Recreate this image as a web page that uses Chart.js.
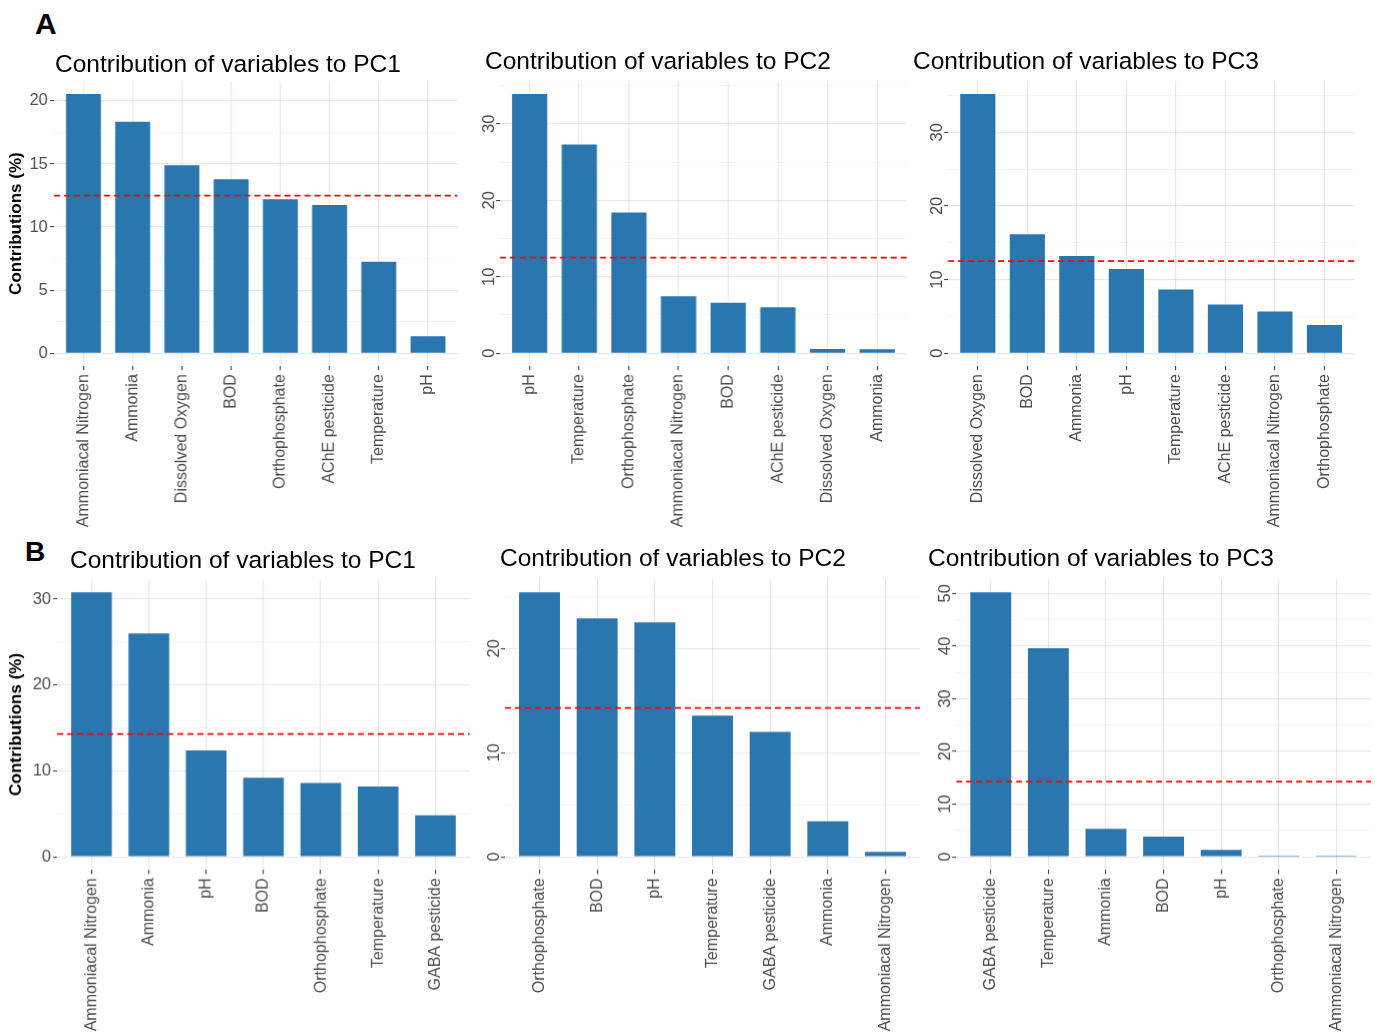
<!DOCTYPE html>
<html>
<head>
<meta charset="utf-8">
<script src="https://cdn.jsdelivr.net/npm/chart.js@4.4.1/dist/chart.umd.min.js"></script>
<style>
  body { margin: 0; background: #fff; width: 1375px; height: 1036px; position: relative; overflow: hidden;
         font-family: "Liberation Sans", Arial, sans-serif; }
  .box { position: absolute; }
  .ttl { position: absolute; font-size: 24.5px; line-height: 24px; white-space: nowrap; color: #000; }
  .tag { position: absolute; font-weight: bold; white-space: nowrap; color: #000; }
</style>
</head>
<body>
<div class="tag" style="left:35px;top:9px;font-size:30px;line-height:30px">A</div>
<div class="tag" style="left:25px;top:538px;font-size:28px;line-height:28px">B</div>
<div id="root"></div>
<script>
// valeurs (contributions en %)
const catsA1 = ["Ammoniacal Nitrogen", "Ammonia", "Dissolved Oxygen", "BOD", "Orthophosphate", "AChE pesticide", "Temperature", "pH"];
const valsA1 = [20.55, 18.35, 14.9, 13.8, 12.2, 11.75, 7.25, 1.35];

const catsA2 = ["pH", "Temperature", "Orthophosphate", "Ammoniacal Nitrogen", "BOD", "AChE pesticide", "Dissolved Oxygen", "Ammonia"];
const valsA2 = [33.9, 27.3, 18.4, 7.45, 6.6, 6.0, 0.57, 0.52];

const catsA3 = ["Dissolved Oxygen", "BOD", "Ammonia", "pH", "Temperature", "AChE pesticide", "Ammoniacal Nitrogen", "Orthophosphate"];
const valsA3 = [35.2, 16.15, 13.2, 11.45, 8.65, 6.6, 5.65, 3.85];

const catsB1 = ["Ammoniacal Nitrogen", "Ammonia", "pH", "BOD", "Orthophosphate", "Temperature", "GABA pesticide"];
const valsB1 = [30.8, 26.0, 12.4, 9.2, 8.6, 8.2, 4.85];

const catsB2 = ["Orthophosphate", "BOD", "pH", "Temperature", "GABA pesticide", "Ammonia", "Ammoniacal Nitrogen"];
const valsB2 = [25.4, 22.9, 22.5, 13.55, 12.0, 3.4, 0.48];

const catsB3 = ["GABA pesticide", "Temperature", "Ammonia", "BOD", "pH", "Orthophosphate", "Ammoniacal Nitrogen"];
const valsB3 = [50.2, 39.6, 5.3, 3.85, 1.33, 0.25, 0.25];

// ligne de référence (contribution attendue si uniforme)
const refLines = [12.5, 12.5, 12.5, 14.29, 14.29, 14.29];

// graduations y
const yTicksA1 = [0, 5, 10, 15, 20];
const yTicksA2 = [0, 10, 20, 30];
const yTicksA3 = [0, 10, 20, 30];
const yTicksB1 = [0, 10, 20, 30];
const yTicksB2 = [0, 10, 20];
const yTicksB3 = [0, 10, 20, 30, 40, 50];

const titles = ["Contribution of variables to PC1", "Contribution of variables to PC2", "Contribution of variables to PC3",
                "Contribution of variables to PC1", "Contribution of variables to PC2", "Contribution of variables to PC3"];
const yAxisTitle = "Contributions (%)";

// mise en page (px): cl = bord gauche du canvas, pl/pr/pt/pb = panneau, bot = bas du canvas
const layout = [
  { cl: 0,   pl: 53.8,  pr: 456.5,  pt: 80.5,  pb: 365.7, bot: 532,  tx: 55,  ty: 52,  first: true },
  { cl: 470, pl: 499.8, pr: 905.9,  pt: 80.5,  pb: 365.7, bot: 532,  tx: 485, ty: 49,  first: false },
  { cl: 915, pl: 948.1, pr: 1354.2, pt: 80.5,  pb: 365.7, bot: 532,  tx: 913, ty: 49,  first: false },
  { cl: 0,   pl: 57,    pr: 468.8,  pt: 579.1, pb: 869.5, bot: 1036, tx: 70,  ty: 548, first: true },
  { cl: 475, pl: 504.9, pr: 920.1,  pt: 579.1, pb: 869.5, bot: 1036, tx: 500, ty: 546, first: false },
  { cl: 925, pl: 956.2, pr: 1371,   pt: 579.1, pb: 869.5, bot: 1036, tx: 928, ty: 546, first: false }
];

const series = [
  [catsA1, valsA1, yTicksA1], [catsA2, valsA2, yTicksA2], [catsA3, valsA3, yTicksA3],
  [catsB1, valsB1, yTicksB1], [catsB2, valsB2, yTicksB2], [catsB3, valsB3, yTicksB3]
];

const FONT = '"Liberation Sans", Arial, sans-serif';
const BAR = '#2A77B0';
const TICK_TXT = '#4D4D4D';

// étiquettes y tournées (colonnes PC2 / PC3)
const rotatedYLabels = {
  id: 'rotatedYLabels',
  afterDraw(chart, args, opts) {
    if (!opts.show) return;
    const s = chart.scales.y, ctx = chart.ctx;
    ctx.save();
    ctx.fillStyle = TICK_TXT;
    ctx.font = '16.5px ' + FONT;
    ctx.textAlign = 'center';
    ctx.textBaseline = 'alphabetic';
    opts.values.forEach(v => {
      ctx.save();
      ctx.translate(s.right - 6, s.getPixelForValue(v));
      ctx.rotate(-Math.PI / 2);
      ctx.fillText(String(v), 0, 0);
      ctx.restore();
    });
    ctx.restore();
  }
};

const root = document.getElementById('root');

layout.forEach((L, k) => {
  const [cats, vals, major] = series[k];

  // titre
  const t = document.createElement('div');
  t.className = 'ttl';
  t.style.left = L.tx + 'px';
  t.style.top = L.ty + 'px';
  t.textContent = titles[k];
  document.body.appendChild(t);

  const padTop = 10;
  const box = document.createElement('div');
  box.className = 'box';
  const top = L.pt - padTop;
  box.style.left = L.cl + 'px';
  box.style.top = top + 'px';
  box.style.width = (L.pr + 2 - L.cl) + 'px';
  box.style.height = (L.bot - top) + 'px';
  const cv = document.createElement('canvas');
  box.appendChild(cv);
  root.appendChild(box);

  const vmax = Math.max(...vals);
  const yMin = -0.05 * vmax, yMax = 1.05 * vmax;
  const step = major[1] - major[0];
  const minor = [];
  for (let v = major[0] + step / 2; v <= yMax; v += step) minor.push(v);
  const isMajor = v => major.includes(v);

  const xMin = -0.6, xMax = cats.length - 0.4;
  const yW = L.pl - L.cl;
  const xH = L.bot - L.pb;

  new Chart(cv, {
    type: 'bar',
    data: {
      datasets: [
        {
          type: 'line',
          data: [{ x: xMin, y: refLines[k] }, { x: xMax, y: refLines[k] }],
          borderColor: '#FF0000', borderWidth: 1.7, borderDash: [6, 4],
          pointRadius: 0, order: 0
        },
        {
          data: cats.map((c, i) => ({ x: i, y: vals[i] })),
          backgroundColor: BAR, borderWidth: 0,
          barPercentage: 0.71, categoryPercentage: 1, order: 1
        }
      ]
    },
    options: {
      responsive: true,
      maintainAspectRatio: false,
      animation: false,
      layout: { padding: { top: padTop, right: 2, bottom: 0, left: 0 } },
      plugins: {
        legend: { display: false },
        tooltip: { enabled: false },
        rotatedYLabels: { show: !L.first, values: major }
      },
      scales: {
        x: {
          type: 'linear', min: xMin, max: xMax, offset: false,
          afterBuildTicks: a => { a.ticks = cats.map((c, i) => ({ value: i })); },
          afterFit: s => { s.height = xH; s.paddingLeft = 0; s.paddingRight = 0; },
          ticks: {
            callback: v => cats[v],
            autoSkip: false, minRotation: 90, maxRotation: 90,
            color: TICK_TXT, font: { size: 16, family: FONT }, padding: 4
          },
          grid: { offset: false, color: 'rgba(0,0,0,0.09)', lineWidth: 1.2, tickColor: '#333', tickLength: 4, tickWidth: 1 },
          border: { display: false }
        },
        y: {
          min: yMin, max: yMax,
          afterBuildTicks: a => { a.ticks = major.concat(minor).sort((p, q) => p - q).map(v => ({ value: v })); },
          afterFit: s => { s.width = yW; s.paddingTop = 0; s.paddingBottom = 0; },
          ticks: {
            callback: v => (L.first && isMajor(v)) ? String(v) : '',
            color: TICK_TXT, font: { size: 16.5, family: FONT }, padding: 2
          },
          grid: {
            color: c => isMajor(c.tick.value) ? 'rgba(0,0,0,0.09)' : 'rgba(0,0,0,0.05)',
            lineWidth: c => isMajor(c.tick.value) ? 1.2 : 0.8,
            tickColor: c => isMajor(c.tick.value) ? '#333' : 'rgba(0,0,0,0)',
            tickLength: 4, tickWidth: 1
          },
          border: { display: false },
          title: {
            display: L.first, text: yAxisTitle, color: '#000',
            font: { size: 17, weight: 'bold', family: FONT }, padding: { top: 6, bottom: 0 }
          }
        }
      }
    },
    plugins: [rotatedYLabels]
  });
});
</script>
</body>
</html>
